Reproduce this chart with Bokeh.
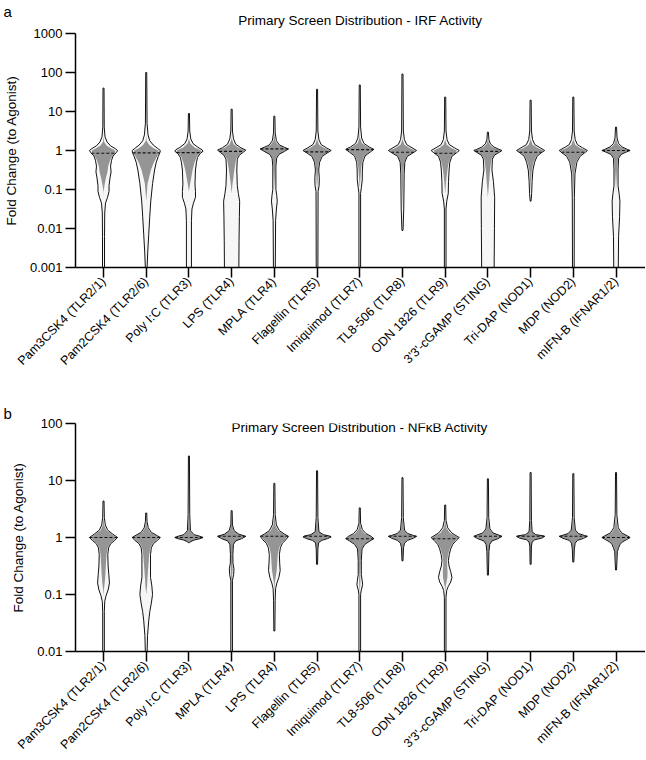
import numpy as np
from bokeh.plotting import figure
from bokeh.models import Range1d, FixedTicker, Label, Title
from bokeh.layouts import column
from bokeh.embed import file_html
from bokeh.resources import INLINE

# ---------------- data ----------------
irf_categories = ["Pam3CSK4 (TLR2/1)", "Pam2CSK4 (TLR2/6)", "Poly I:C (TLR3)", "LPS (TLR4)",
                  "MPLA (TLR4)", "Flagellin (TLR5)", "Imiquimod (TLR7)", "TL8-506 (TLR8)",
                  "ODN 1826 (TLR9)", "3'3'-cGAMP (STING)", "Tri-DAP (NOD1)", "MDP (NOD2)",
                  "mIFN-B (IFNAR1/2)"]
nfkb_categories = ["Pam3CSK4 (TLR2/1)", "Pam2CSK4 (TLR2/6)", "Poly I:C (TLR3)", "MPLA (TLR4)",
                   "LPS (TLR4)", "Flagellin (TLR5)", "Imiquimod (TLR7)", "TL8-506 (TLR8)",
                   "ODN 1826 (TLR9)", "3'3'-cGAMP (STING)", "Tri-DAP (NOD1)", "MDP (NOD2)",
                   "mIFN-B (IFNAR1/2)"]

irf_medians = [0.85, 0.87, 0.88, 0.95, 1.1, 0.92, 1.05, 0.9, 0.85, 0.95, 0.9, 0.9, 1.0]
nfkb_medians = [1.0, 1.0, 1.0, 1.05, 1.05, 1.05, 0.95, 1.05, 0.95, 1.05, 1.05, 1.05, 1.0]

irf_ticks = [0.001, 0.01, 0.1, 1, 10, 100, 1000]
irf_tick_labels = ["0.001", "0.01", "0.1", "1", "10", "100", "1000"]
nfkb_ticks = [0.01, 0.1, 1, 10, 100]
nfkb_tick_labels = ["0.01", "0.1", "1", "10", "100"]

# violin profiles: log10 fold change (top -> bottom) and density (arbitrary units)
irf_log10 = [
    [1.6, 0.6, 0.35, 0.22, 0.12, 0.05, 0, -0.06, -0.14, -0.25, -0.4, -0.55, -0.7, -0.9, -1.05, -1.2, -1.35, -1.6, -2.2, -3.05],
    [2.0, 0.7, 0.4, 0.25, 0.14, 0.06, 0, -0.06, -0.15, -0.3, -0.5, -0.85, -1.3, -1.7, -2.15, -2.6, -3.05],
    [0.95, 0.5, 0.3, 0.18, 0.08, 0.02, -0.02, -0.08, -0.18, -0.3, -0.5, -0.86, -1.05, -1.2, -1.35, -1.5, -1.8, -3.05],
    [1.06, 0.5, 0.3, 0.16, 0.07, 0.01, -0.05, -0.12, -0.22, -0.5, -0.9, -1.1, -1.3, -1.7, -2.3, -3.05],
    [0.88, 0.45, 0.25, 0.14, 0.08, 0.04, -0.02, -0.1, -0.2, -0.4, -1.0, -1.15, -1.3, -1.5, -1.8, -3.05],
    [1.57, 0.5, 0.28, 0.15, 0.07, 0.0, -0.06, -0.15, -0.3, -0.5, -0.7, -0.9, -1.05, -3.05],
    [1.68, 0.6, 0.32, 0.18, 0.09, 0.03, -0.04, -0.14, -0.3, -0.5, -0.75, -0.95, -1.1, -3.05],
    [1.96, 0.5, 0.28, 0.15, 0.07, 0.0, -0.06, -0.15, -0.3, -0.6, -1.5, -2.05],
    [1.37, 0.5, 0.28, 0.15, 0.07, 0.0, -0.06, -0.15, -0.3, -0.5, -0.8, -1.1, -1.3, -1.5, -3.05],
    [0.47, 0.28, 0.17, 0.09, 0.03, 0.0, -0.05, -0.12, -0.22, -0.5, -0.8, -1.2, -2.0, -3.05],
    [1.29, 0.5, 0.28, 0.15, 0.07, 0.0, -0.06, -0.15, -0.3, -0.5, -0.8, -1.1, -1.3],
    [1.37, 0.5, 0.28, 0.15, 0.07, 0.0, -0.06, -0.15, -0.3, -0.6, -1.2, -3.05],
    [0.6, 0.32, 0.18, 0.09, 0.03, 0.0, -0.04, -0.1, -0.2, -0.5, -0.9, -1.1, -1.3, -1.7, -2.2, -3.05],
]
irf_density = [
    [0.5, 0.7, 1.5, 3.5, 7, 11.5, 14, 12.5, 9.5, 8, 7, 7.5, 6.5, 5.5, 5.5, 4, 2, 1.2, 1, 1],
    [0.5, 0.8, 1.8, 3.5, 7, 11, 14, 13.5, 12, 10, 8.3, 6.3, 4.5, 3.5, 2.5, 1.5, 0.8],
    [0.5, 0.8, 1.8, 4, 9, 13, 14, 11, 8.5, 7.5, 6.5, 6, 6.5, 6.5, 4.5, 3, 2.5, 2.5],
    [0.5, 0.8, 1.8, 4, 9, 13.7, 11, 7.5, 5.5, 5, 5.5, 6.5, 7.8, 7.5, 7.2, 7],
    [0.5, 0.8, 2, 5, 10, 13.7, 10, 4.5, 2.2, 1.5, 1.5, 2.3, 2.8, 2, 1.2, 0.9],
    [0.5, 0.8, 1.8, 4, 9, 13.7, 10, 5, 2.5, 1.6, 2.2, 2, 1, 0.8],
    [0.5, 0.8, 1.8, 4, 9, 13.5, 10, 5, 3, 2.5, 2.4, 1.5, 0.8, 0.8],
    [0.5, 0.8, 1.8, 4, 9, 13.3, 10, 4.5, 2.2, 1.6, 1.2, 0.5],
    [0.5, 0.8, 1.8, 4, 9, 13.7, 11, 6.5, 4.5, 3.8, 3.2, 3, 1.5, 0.8, 0.8],
    [0.5, 1, 2.5, 6, 11, 14, 11, 6.5, 4.5, 4, 5.5, 6.7, 6.5, 6.2],
    [0.5, 0.8, 1.8, 4, 9, 13.3, 10, 6, 3.8, 2.2, 1.4, 1, 0.4],
    [0.5, 0.8, 1.8, 4, 9, 13.7, 11, 6.5, 3.5, 1.6, 1, 0.8],
    [0.5, 1, 2.5, 6, 11, 13.8, 10, 5, 2.5, 2, 2, 3, 3.8, 3.5, 2.5, 2.2],
]
nfkb_log10 = [
    [0.64, 0.35, 0.22, 0.13, 0.06, 0.0, -0.05, -0.11, -0.18, -0.3, -0.5, -0.65, -0.8, -0.92, -1.02, -1.12, -1.3, -2.05],
    [0.43, 0.28, 0.17, 0.09, 0.03, 0.0, -0.05, -0.11, -0.18, -0.3, -0.7, -0.85, -1.0, -1.15, -1.3, -1.45, -1.72, -2.05],
    [1.43, 0.4, 0.12, 0.05, 0.015, 0.0, -0.02, -0.045, -0.07, -0.09],
    [0.47, 0.22, 0.12, 0.06, 0.02, -0.02, -0.06, -0.12, -0.3, -0.45, -0.55, -0.65, -0.75, -2.05],
    [0.95, 0.4, 0.22, 0.12, 0.06, 0.02, -0.04, -0.1, -0.18, -0.3, -0.45, -0.58, -0.7, -0.8, -0.9, -1.1, -1.64],
    [1.17, 0.35, 0.1, 0.05, 0.025, 0.01, -0.02, -0.05, -0.09, -0.2, -0.47],
    [0.52, 0.25, 0.14, 0.07, 0.02, -0.02, -0.06, -0.12, -0.2, -0.4, -0.65, -0.75, -0.83, -0.92, -1.0, -2.05],
    [1.05, 0.35, 0.13, 0.07, 0.035, 0.02, -0.01, -0.05, -0.1, -0.18, -0.41],
    [0.57, 0.3, 0.17, 0.08, 0.02, 0.0, -0.05, -0.12, -0.2, -0.3, -0.4, -0.5, -0.6, -0.7, -0.78, -0.86, -0.93, -1.05, -2.05],
    [1.03, 0.35, 0.15, 0.08, 0.04, 0.02, -0.02, -0.06, -0.12, -0.25, -0.66],
    [1.14, 0.3, 0.1, 0.05, 0.03, 0.02, -0.01, -0.04, -0.08, -0.15, -0.47],
    [1.12, 0.35, 0.13, 0.07, 0.035, 0.02, -0.015, -0.05, -0.1, -0.2, -0.43],
    [1.14, 0.4, 0.17, 0.08, 0.03, 0.0, -0.04, -0.08, -0.12, -0.18, -0.25, -0.57],
]
nfkb_density = [
    [0.5, 0.8, 1.8, 4, 9, 13.8, 11, 7, 5, 4.2, 4.5, 5.2, 5.8, 4.5, 2.5, 1.2, 0.8, 0.8],
    [0.5, 0.8, 2, 5, 11, 13.8, 11, 7, 5, 4.2, 4.2, 5.5, 6.2, 5, 3.5, 2.5, 1.3, 0.8],
    [0.5, 0.8, 1.5, 5, 12, 13.8, 11, 5, 2, 0.5],
    [0.5, 0.8, 2.5, 7, 14, 10, 4, 1.8, 1.2, 1.3, 2.3, 2, 0.8, 0.8],
    [0.5, 0.8, 2, 5, 10, 14, 11.5, 8, 6, 5, 5.3, 5.8, 4.5, 2.5, 1.2, 0.8, 0.5],
    [0.5, 0.8, 1.8, 6, 12, 13.5, 10, 4.5, 1.5, 0.8, 0.5],
    [0.5, 0.8, 2.5, 6, 11, 13.7, 10, 5, 2.2, 1.5, 1.5, 2.3, 2.8, 1.5, 0.8, 0.8],
    [0.5, 0.8, 2, 5, 11, 13.8, 11, 5, 2, 1, 0.5],
    [0.5, 0.8, 2.5, 6.5, 12, 14, 11, 7.5, 5.5, 4, 3.2, 3.8, 5.5, 6.7, 5.5, 3, 1.5, 0.8, 0.8],
    [0.5, 0.8, 2, 5, 11, 13.8, 10, 4, 1.8, 1, 0.5],
    [0.5, 0.8, 1.5, 5, 12, 13.7, 11, 4, 1.5, 0.8, 0.5],
    [0.5, 0.8, 2, 5, 11, 13.7, 10, 4, 1.8, 1, 0.5],
    [0.5, 0.8, 2.2, 5.5, 11, 13.8, 10, 6, 4, 2.5, 1.3, 0.5],
]

# ---------------- style ----------------
FONT = "Liberation Sans"
HALF = 0.33          # max half width of a violin, in category units
X0, X1 = -0.656, 12.69
CORE = "#959595"
SHELL = "#f6f6f6"
W = 645
LEFT = 75


def draw_violins(p, logs, dens, medians):
    sx, sy, cx, cy = [], [], [], []
    mx0, mx1, my = [], [], []
    for i, (lg, dn) in enumerate(zip(logs, dens)):
        lg = np.asarray(lg, float)
        dn = np.asarray(dn, float)
        hw = dn / dn.max() * HALF
        yv = 10.0 ** lg
        sx.append(np.concatenate([i - hw, (i + hw)[::-1]]).tolist())
        sy.append(np.concatenate([yv, yv[::-1]]).tolist())
        ml = np.log10(medians[i])
        d = lg - ml
        k = np.where(d >= 0,
                     np.clip(0.92 - np.maximum(d - 0.04, 0) * 3.0, 0, 0.92),
                     np.clip(0.92 - np.maximum(-d - 0.08, 0) * 1.0, 0, 0.92))
        hin = hw * k
        cx.append(np.concatenate([i - hin, (i + hin)[::-1]]).tolist())
        cy.append(np.concatenate([yv, yv[::-1]]).tolist())
        w = float(np.interp(ml, lg[::-1], hw[::-1]))
        mx0.append(i - w)
        mx1.append(i + w)
        my.append(medians[i])
    p.patches(xs=sx, ys=sy, fill_color=SHELL, line_color=None)
    p.patches(xs=cx, ys=cy, fill_color=CORE, line_color=None)
    p.patches(xs=sx, ys=sy, fill_color=None, line_color="#111111", line_width=1)
    p.segment(x0=mx0, x1=mx1, y0=my, y1=my, line_color="#111111", line_width=1.1,
              line_dash="3 2")


def make_panel(height, top, bottom, yr, ticks, tick_labels, cats, logs, dens, medians):
    p = figure(width=W, height=height, x_range=Range1d(X0, X1), y_range=Range1d(*yr),
               y_axis_type="log", output_backend="svg", toolbar_location=None,
               min_border_left=LEFT, min_border_right=0, min_border_top=top,
               min_border_bottom=bottom)
    p.outline_line_color = None
    p.xgrid.visible = False
    p.ygrid.visible = False
    draw_violins(p, logs, dens, medians)

    p.xaxis.ticker = FixedTicker(ticks=list(range(len(cats))))
    p.xaxis.major_label_overrides = {i: c for i, c in enumerate(cats)}
    p.xaxis.major_label_orientation = np.pi / 4
    p.yaxis.ticker = FixedTicker(ticks=ticks)
    p.yaxis.major_label_overrides = {t: s for t, s in zip(ticks, tick_labels)}
    for ax in (p.xaxis, p.yaxis):
        ax.axis_line_width = 1.5
        ax.axis_line_color = "black"
        ax.major_tick_line_width = 1.5
        ax.major_tick_line_color = "black"
        ax.major_tick_out = 10
        ax.major_tick_in = 0
        ax.minor_tick_line_color = None
        ax.major_label_text_font = FONT
        ax.major_label_text_color = "black"
        ax.major_label_standoff = 3
    p.xaxis.major_label_standoff = 2
    p.xaxis.major_label_text_font_size = "12.5px"
    p.yaxis.major_label_text_font_size = "13px"
    p.yaxis.axis_label = "Fold Change (to Agonist)"
    p.yaxis.axis_label_text_font = FONT
    p.yaxis.axis_label_text_font_style = "normal"
    p.yaxis.axis_label_text_font_size = "13.5px"
    p.yaxis.axis_label_text_color = "black"
    p.yaxis.axis_label_standoff = 8
    return p


def tag_title(text, standoff):
    return Title(text=text, align="left", offset=-72, standoff=standoff, text_font=FONT,
                 text_font_size="15px", text_font_style="normal", text_color="black")


pa = make_panel(392, 33, 125, (0.001, 1000), irf_ticks, irf_tick_labels, irf_categories,
                irf_log10, irf_density, irf_medians)
pa.add_layout(Title(text="Primary Screen Distribution - IRF Activity", align="center",
                    standoff=12, text_font=FONT, text_font_size="13.5px",
                    text_font_style="normal", text_color="black"), "above")
pa.add_layout(tag_title("a", -30), "above")

pb = make_panel(367, 31, 102, (0.01, 100), nfkb_ticks, nfkb_tick_labels, nfkb_categories,
                nfkb_log10, nfkb_density, nfkb_medians)
pb.add_layout(Label(x=(len(nfkb_categories) - 1) / 2, y=10 ** 1.93,
                    text="Primary Screen Distribution - NF\u03baB Activity", text_align="center",
                    text_baseline="middle", text_font=FONT, text_font_size="13.5px",
                    text_color="black"))
pb.add_layout(tag_title("b", 4), "above")

layout = column(pa, pb)
open("out.html", "w").write(file_html(layout, INLINE))
